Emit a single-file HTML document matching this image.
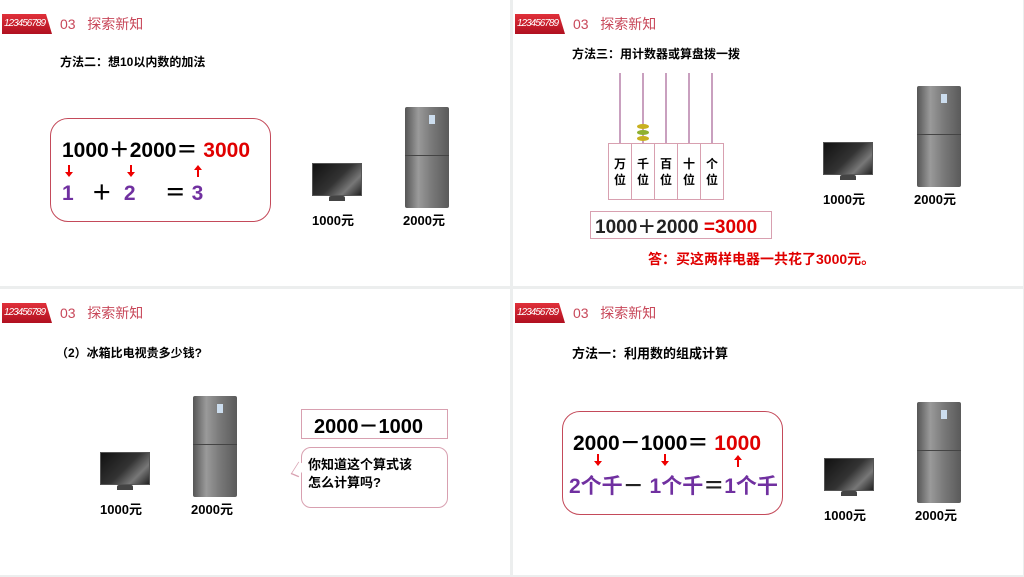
<!DOCTYPE html>
<html><head><meta charset="utf-8"><style>
body{margin:0;width:1024px;height:577px;background:#eceeee;position:relative;overflow:hidden;font-family:"Liberation Sans","Noto Sans CJK SC",sans-serif}
.p{position:absolute;width:510px;height:286px;background:#fff;overflow:hidden}
.a{position:absolute;white-space:nowrap}
.tag{position:absolute;left:2px;top:14px;width:50px;height:20px;background:linear-gradient(#e0303a,#b01020);clip-path:polygon(0 0,88% 0,100% 100%,0 100%);color:#fff;font-size:10px;font-style:italic;line-height:20px;padding-left:2px;box-sizing:border-box;letter-spacing:-1px}
.hd{position:absolute;left:60px;top:14px;font-size:14px;color:#c8485a;line-height:20px}
.b{font-weight:bold}
.tv{position:absolute;width:50px;height:39px}
.tv .s{position:absolute;left:0;top:0;width:50px;height:33px;background:linear-gradient(135deg,#111 0%,#333 50%,#777 75%,#222 100%);border:1px solid #555;box-sizing:border-box}
.tv .st{position:absolute;left:17px;top:33px;width:16px;height:5px;background:#444;border-radius:2px 2px 0 0}
.fr{position:absolute;width:44px;background:linear-gradient(90deg,#555,#9a9a9a 30%,#7a7a7a 60%,#5a5a5a);border-radius:2px}
.fr:after{content:"";position:absolute;left:0;right:0;top:48%;height:1px;background:#444}
.fr:before{content:"";position:absolute;left:24px;top:8px;width:6px;height:9px;background:#cde;}
.lbl{position:absolute;font-size:13px;font-weight:bold;width:60px;text-align:center}
.rb{position:absolute;border:1.5px solid #c44a5a;border-radius:18px;box-sizing:border-box}
.red{color:#e00000}.pur{color:#7030a0}
.ar{position:absolute;width:2px;height:9px;background:#e00}
.ar.d:after{content:"";position:absolute;left:-3px;top:7px;border:4px solid transparent;border-top:5px solid #e00}
.ar.u:after{content:"";position:absolute;left:-3px;top:-7px;border:4px solid transparent;border-bottom:5px solid #e00}
</style></head><body>

<!-- Panel 1 -->
<div class="p" style="left:0;top:0">
<div class="tag">123456789</div><div class="hd">03&nbsp;&nbsp;&nbsp;探索新知</div>
<div class="a b" style="left:60px;top:53px;font-size:12px">方法二：想10以内数的加法</div>
<div class="rb" style="left:50px;top:118px;width:221px;height:104px"></div>
<div class="a b" style="left:62px;top:134px;font-size:21px">1000＋2000＝ <span class="red">3000</span></div>
<div class="ar d" style="left:68px;top:165px"></div>
<div class="ar d" style="left:130px;top:165px"></div>
<div class="ar u" style="left:197px;top:168px"></div>
<div class="a b" style="left:62px;top:177px;font-size:21px"><span class="pur">1</span>&nbsp;&nbsp;&nbsp;＋&nbsp;&nbsp;<span class="pur">2</span>&nbsp;&nbsp;&nbsp;&nbsp;&nbsp;＝ <span class="pur">3</span></div>
<div class="tv" style="left:312px;top:163px"><div class="s"></div><div class="st"></div></div>
<div class="fr" style="left:405px;top:107px;height:101px"></div>
<div class="lbl" style="left:303px;top:210px">1000元</div>
<div class="lbl" style="left:394px;top:210px">2000元</div>
</div>

<!-- Panel 2 -->
<div class="p" style="left:513px;top:0">
<div class="tag">123456789</div><div class="hd">03&nbsp;&nbsp;&nbsp;探索新知</div>
<div class="a b" style="left:59px;top:45px;font-size:12px">方法三：用计数器或算盘拨一拨</div>
<div class="a" style="left:106px;top:73px;width:2px;height:70px;background:#c9a0bf"></div>
<div class="a" style="left:129px;top:73px;width:2px;height:70px;background:#c9a0bf"></div>
<div class="a" style="left:152px;top:73px;width:2px;height:70px;background:#c9a0bf"></div>
<div class="a" style="left:175px;top:73px;width:2px;height:70px;background:#c9a0bf"></div>
<div class="a" style="left:198px;top:73px;width:2px;height:70px;background:#c9a0bf"></div>
<div class="a" style="left:124px;top:124px;width:12px;height:5px;border-radius:50%;background:#c8b020"></div>
<div class="a" style="left:124px;top:130px;width:12px;height:5px;border-radius:50%;background:#8fb030"></div>
<div class="a" style="left:124px;top:136px;width:12px;height:5px;border-radius:50%;background:#c8b020"></div>
<div class="a" style="left:95px;top:143px;width:116px;height:57px;border:1px solid #d8a0b0;box-sizing:border-box;display:flex">
<div style="flex:1;border-right:1px solid #d8a0b0;text-align:center;font-size:12px;font-weight:bold;padding-top:12px;line-height:16px">万<br>位</div>
<div style="flex:1;border-right:1px solid #d8a0b0;text-align:center;font-size:12px;font-weight:bold;padding-top:12px;line-height:16px">千<br>位</div>
<div style="flex:1;border-right:1px solid #d8a0b0;text-align:center;font-size:12px;font-weight:bold;padding-top:12px;line-height:16px">百<br>位</div>
<div style="flex:1;border-right:1px solid #d8a0b0;text-align:center;font-size:12px;font-weight:bold;padding-top:12px;line-height:16px">十<br>位</div>
<div style="flex:1;text-align:center;font-size:12px;font-weight:bold;padding-top:12px;line-height:16px">个<br>位</div>
</div>
<div class="a" style="left:77px;top:211px;width:182px;height:28px;border:1px solid #d8a0b0;box-sizing:border-box"></div>
<div class="a b" style="left:82px;top:212px;font-size:19px;color:#222">1000＋2000 <span class="red">=3000</span></div>
<div class="a b red" style="left:135px;top:249px;font-size:14px">答：买这两样电器一共花了3000元。</div>
<div class="tv" style="left:310px;top:142px"><div class="s"></div><div class="st"></div></div>
<div class="fr" style="left:404px;top:86px;height:101px"></div>
<div class="lbl" style="left:301px;top:189px">1000元</div>
<div class="lbl" style="left:392px;top:189px">2000元</div>
</div>

<!-- Panel 3 -->
<div class="p" style="left:0;top:289px">
<div class="tag">123456789</div><div class="hd">03&nbsp;&nbsp;&nbsp;探索新知</div>
<div class="a b" style="left:56px;top:55px;font-size:12px">（2）冰箱比电视贵多少钱?</div>
<div class="tv" style="left:100px;top:163px"><div class="s"></div><div class="st"></div></div>
<div class="fr" style="left:193px;top:107px;height:101px"></div>
<div class="lbl" style="left:91px;top:210px">1000元</div>
<div class="lbl" style="left:182px;top:210px">2000元</div>
<div class="a" style="left:301px;top:120px;width:147px;height:30px;border:1px solid #d8a0b0;box-sizing:border-box"></div>
<div class="a b" style="left:314px;top:121px;font-size:20px">2000－1000</div>
<div class="a" style="left:301px;top:158px;width:147px;height:61px;border:1px solid #d8a0b0;border-radius:10px;box-sizing:border-box"></div>
<div class="a" style="left:293px;top:175px;width:10px;height:10px;border-left:1px solid #d8a0b0;border-bottom:1px solid #d8a0b0;background:#fff;transform:skewY(-30deg) rotate(45deg)"></div>
<div class="a b" style="left:308px;top:167px;font-size:13px;line-height:18px">你知道这个算式该<br>怎么计算吗?</div>
</div>

<!-- Panel 4 -->
<div class="p" style="left:513px;top:289px">
<div class="tag">123456789</div><div class="hd">03&nbsp;&nbsp;&nbsp;探索新知</div>
<div class="a b" style="left:59px;top:54px;font-size:13px">方法一：利用数的组成计算</div>
<div class="rb" style="left:49px;top:122px;width:221px;height:104px"></div>
<div class="a b" style="left:60px;top:138px;font-size:21px">2000－1000＝ <span class="red">1000</span></div>
<div class="ar d" style="left:84px;top:165px"></div>
<div class="ar d" style="left:151px;top:165px"></div>
<div class="ar u" style="left:224px;top:169px"></div>
<div class="a b pur" style="left:56px;top:181px;font-size:21px">2个千<span style="color:#222">－</span> 1个千<span style="color:#222">＝</span>1个千</div>
<div class="tv" style="left:311px;top:169px"><div class="s"></div><div class="st"></div></div>
<div class="fr" style="left:404px;top:113px;height:101px"></div>
<div class="lbl" style="left:302px;top:216px">1000元</div>
<div class="lbl" style="left:393px;top:216px">2000元</div>
</div>
</body></html>
